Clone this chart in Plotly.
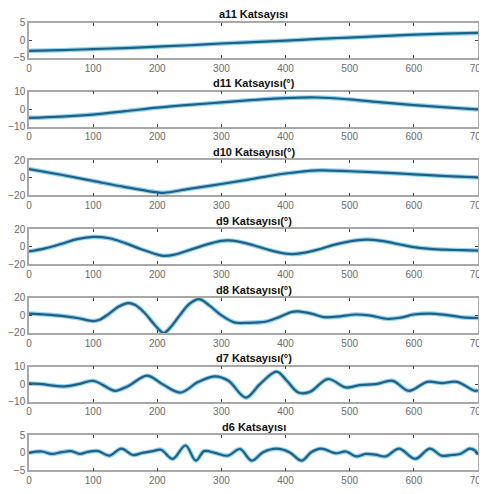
import plotly.graph_objects as go

# ---- data ----
a11_x = [0, 50, 100, 150, 200, 250, 300, 350, 400, 450, 500, 550, 600, 650, 700]
a11_y = [-3.0, -2.8, -2.5, -2.2, -1.8, -1.4, -0.9, -0.5, -0.1, 0.4, 0.8, 1.2, 1.6, 1.9, 2.1]

d11_x = [0, 50, 100, 150, 200, 250, 300, 350, 400, 450, 500, 550, 600, 650, 700]
d11_y = [-5.0, -4.3, -3.1, -1.2, 0.8, 2.4, 3.8, 5.2, 6.3, 6.6, 5.5, 3.8, 2.3, 1.0, -0.2]

d10_x = [0, 50, 100, 150, 200, 210, 250, 300, 350, 400, 450, 500, 550, 600, 650, 700]
d10_y = [10.0, 3.5, -3.5, -10.5, -16.5, -17.0, -12.5, -7.0, -1.0, 5.0, 8.5, 7.5, 6.0, 4.0, 2.0, 0.5]

d9_x = [0, 25, 50, 75, 100, 125, 150, 175, 200, 210, 225, 250, 275, 300, 310, 325, 350, 375,
        400, 410, 425, 450, 475, 500, 525, 550, 575, 600, 625, 650, 675, 700]
d9_y = [-5.5, -2.0, 3.0, 8.5, 11.0, 9.5, 4.0, -3.0, -9.0, -10.5, -9.5, -4.0, 2.0, 6.5, 7.0, 6.0,
        1.5, -4.0, -8.0, -8.5, -7.5, -3.5, 2.0, 6.0, 8.0, 6.5, 3.0, -0.5, -2.5, -3.5, -4.0, -4.5]

d8_x = [0, 25, 50, 75, 100, 110, 125, 140, 155, 165, 180, 195, 210, 220, 235, 250, 265, 280,
        300, 320, 340, 370, 390, 410, 420, 440, 460, 480, 510, 530, 560, 580, 600, 625, 650,
        680, 700]
d8_y = [2.0, 1.0, -0.5, -3.0, -6.5, -5.0, 2.0, 10.0, 14.0, 12.0, 3.0, -10.0, -20.0, -14.0, 0.0,
        13.0, 18.5, 12.0, 0.0, -8.0, -8.5, -7.0, -2.0, 4.0, 4.5, 2.0, -2.0, -1.5, 1.0, 0.0,
        -4.0, -2.5, 1.0, 2.0, 0.5, -2.5, -3.0]

d7_x = [0, 20, 41, 56, 77, 100, 113, 134, 155, 184, 208, 236, 264, 290, 311, 338, 360, 386,
        402, 420, 438, 466, 494, 515, 541, 567, 592, 621, 644, 667, 695, 700]
d7_y = [0.4, 0.0, -1.0, -1.3, 0.0, 1.9, 0.0, -3.8, -1.0, 4.8, 0.0, -4.8, 1.3, 4.4, 1.9, -7.7,
        0.0, 7.1, 1.9, -4.8, -4.4, 2.9, -1.9, -0.6, 0.0, 1.9, -3.8, 1.3, 0.6, 1.3, -3.8, -3.5]

d6_x = [0, 20, 35, 51, 66, 79, 92, 108, 125, 144, 162, 177, 193, 206, 224, 244, 260, 273, 290,
        310, 329, 347, 365, 386, 406, 425, 440, 455, 479, 494, 510, 525, 540, 556, 577, 602,
        625, 643, 659, 672, 687, 695, 700]
d6_y = [0.0, 0.4, -0.3, 0.2, 0.5, -0.3, 0.3, 0.5, -0.8, 1.2, -0.6, 0.0, 0.5, 0.9, -1.7, 2.1,
        -2.2, 0.5, 0.0, -0.8, 1.1, -2.2, 0.2, 1.2, 0.2, -2.2, 0.2, 1.2, -0.1, 0.4, -1.0, -0.3,
        -0.5, -1.0, 1.2, -1.7, 1.2, -0.8, -0.6, -0.3, 1.2, 0.7, -0.5]

titles = ["a11 Katsayısı", "d11 Katsayısı(°)", "d10 Katsayısı(°)", "d9 Katsayısı(°)",
          "d8 Katsayısı(°)", "d7 Katsayısı(°)", "d6 Katsayısı"]
y_ranges = [[-5, 5], [-10, 10], [-20, 20], [-20, 20], [-20, 20], [-10, 10], [-5, 5]]
y_ticks = [[-5, 0, 5], [-10, 0, 10], [-20, 0, 20], [-20, 0, 20], [-20, 0, 20], [-10, 0, 10], [-5, 0, 5]]
x_ticks = [0, 100, 200, 300, 400, 500, 600, 700]

series = [(a11_x, a11_y), (d11_x, d11_y), (d10_x, d10_y), (d9_x, d9_y),
          (d8_x, d8_y), (d7_x, d7_y), (d6_x, d6_y)]

# ---- figure (page body adds an 8px offset) ----
OFF = 8
W, H = 487 - OFF, 494 - OFF
fig = go.Figure()
layout = dict(
    width=W, height=H,
    margin=dict(l=27 - OFF, r=W - (480 - OFF), t=0, b=0),
    paper_bgcolor="white", plot_bgcolor="white",
    showlegend=False,
    font=dict(family="Liberation Sans, Arial", size=10, color="#555555"),
)
annotations = []
for i, ((xs, ys), title) in enumerate(zip(series, titles)):
    n = i + 1
    xa = "x" if n == 1 else f"x{n}"
    ya = "y" if n == 1 else f"y{n}"
    fig.add_trace(go.Scatter(x=xs, y=ys, mode="lines", xaxis=xa, yaxis=ya,
                             line=dict(color="#8ed3f0", width=4.5, shape="spline", smoothing=1.0),
                             hoverinfo="skip"))
    fig.add_trace(go.Scatter(x=xs, y=ys, mode="lines", xaxis=xa, yaxis=ya,
                             line=dict(color="#215f84", width=2.2, shape="spline", smoothing=1.0)))
    top_px = 17 + 70.5 * i - OFF
    bot_px = top_px + 36
    dom = [1 - bot_px / H, 1 - top_px / H]
    axx = dict(domain=[0, 1], range=[0, 700], tickvals=x_ticks, ticks="inside", ticklen=3,
               tickcolor="#444444", showline=True, linecolor="#a8a8a8", linewidth=1.5,
               mirror="ticks", showgrid=False, zeroline=False, anchor=ya,
               ticklabeloverflow="allow",
               tickfont=dict(size=10, color="#6a6a6a"))
    axy = dict(domain=dom, range=y_ranges[i], tickvals=y_ticks[i], ticks="inside", ticklen=3,
               tickcolor="#444444", showline=True, linecolor="#a8a8a8", linewidth=1.5,
               mirror="ticks", showgrid=False, zeroline=False, anchor=xa,
               ticklabeloverflow="allow",
               tickfont=dict(size=10, color="#6a6a6a"))
    layout["xaxis" if n == 1 else f"xaxis{n}"] = axx
    layout["yaxis" if n == 1 else f"yaxis{n}"] = axy
    annotations.append(dict(text=f"<b>{title}</b>", x=0.5, xref="paper",
                            y=1 - (top_px - 8.5) / H, yref="paper", yanchor="middle",
                            showarrow=False, font=dict(size=11, color="#111111")))
layout["annotations"] = annotations
fig.update_layout(**layout)
fig.write_html("out.html")
